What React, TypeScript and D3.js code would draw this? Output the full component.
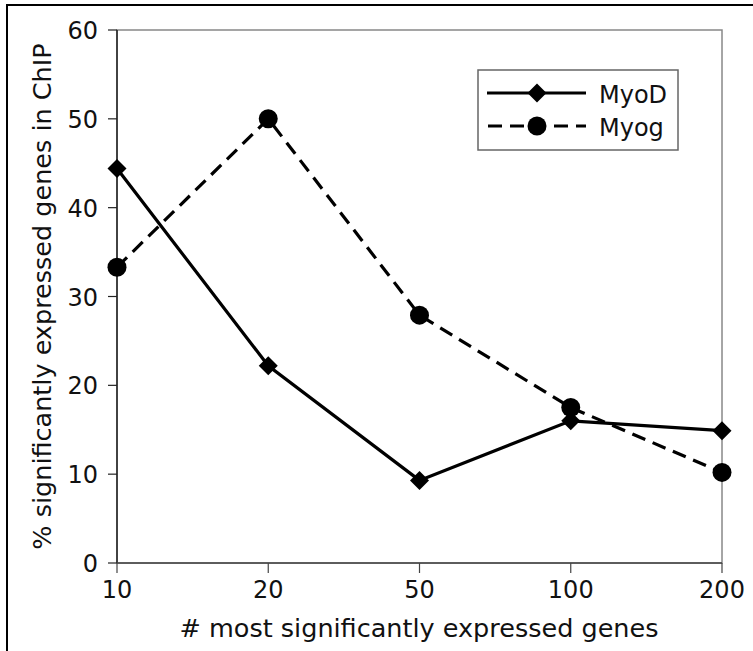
import React from "react";
import * as d3 from "d3";

const categories = ["10", "20", "50", "100", "200"];
const myoD = [44.4, 22.2, 9.3, 16.0, 14.9];
const myog = [33.3, 50.0, 27.9, 17.5, 10.2];
const yTicks = [0, 10, 20, 30, 40, 50, 60];
const seriesNames = ["MyoD", "Myog"];

export default function App() {
  const W = 753, H = 651;
  const left = 117, right = 722, top = 30, bottom = 563;
  const x = d3.scalePoint<string>().domain(categories).range([left, right]);
  const y = d3.scaleLinear().domain([0, 60]).range([bottom, top]);
  const line = d3.line<number>().x((_, i) => x(categories[i])!).y((d) => y(d));
  const font = "DejaVu Sans, sans-serif";
  const diamond = (cx: number, cy: number, r: number) =>
    `M${cx},${cy - r}L${cx + r},${cy}L${cx},${cy + r}L${cx - r},${cy}Z`;
  return (
    <svg width={W} height={H} style={{ position: "absolute", left: 0, top: 0 }} fontFamily={font}>
      <rect x={0} y={0} width={W} height={H} fill="white" />
      <rect x={7} y={5} width={800} height={700} fill="none" stroke="black" strokeWidth={2} />
      <rect x={left} y={top} width={right - left} height={bottom - top} fill="none" stroke="#888" strokeWidth={1.5} />
      <line x1={left} y1={top} x2={left} y2={bottom} stroke="#222" strokeWidth={1.5} />
      <line x1={left} y1={bottom} x2={right} y2={bottom} stroke="#444" strokeWidth={1.5} />
      {yTicks.map((t) => (
        <g key={t}>
          <line x1={108} x2={left} y1={y(t)} y2={y(t)} stroke="#222" strokeWidth={1.2} />
          <text x={98} y={y(t) + 9} textAnchor="end" fontSize={24} fill="#111">{t}</text>
        </g>
      ))}
      {categories.map((c) => (
        <g key={c}>
          <line x1={x(c)} x2={x(c)} y1={bottom} y2={bottom + 10} stroke="#444" strokeWidth={1.2} />
          <text x={x(c)} y={598} textAnchor="middle" fontSize={24} fill="#111">{c}</text>
        </g>
      ))}
      <text x={419} y={637} textAnchor="middle" fontSize={25.5} fill="#111">
        # most significantly expressed genes
      </text>
      <text transform={`translate(51,${(top + bottom) / 2}) rotate(-90)`} textAnchor="middle" fontSize={25.5} fill="#111">
        % significantly expressed genes in ChIP
      </text>
      <path d={line(myoD)!} fill="none" stroke="black" strokeWidth={3.2} />
      <path d={line(myog)!} fill="none" stroke="black" strokeWidth={3.2} strokeDasharray="14,8" />
      {myoD.map((v, i) => (
        <path key={"d" + i} d={diamond(x(categories[i])!, y(v), 9.5)} fill="black" />
      ))}
      {myog.map((v, i) => (
        <circle key={"g" + i} cx={x(categories[i])} cy={y(v)} r={9.5} fill="black" />
      ))}
      <rect x={478} y={70} width={200} height={80} fill="white" stroke="#666" strokeWidth={1.5} />
      <line x1={487} x2={586} y1={93} y2={93} stroke="black" strokeWidth={3.2} />
      <path d={diamond(537, 93, 9.5)} fill="black" />
      <line x1={487} x2={586} y1={126} y2={126} stroke="black" strokeWidth={3.2} strokeDasharray="14,8" strokeDashoffset={-1} />
      <circle cx={537} cy={126} r={9.5} fill="black" />
      <text x={599} y={103} fontSize={24} fill="#111">{seriesNames[0]}</text>
      <text x={599} y={136} fontSize={24} fill="#111">{seriesNames[1]}</text>
    </svg>
  );
}
